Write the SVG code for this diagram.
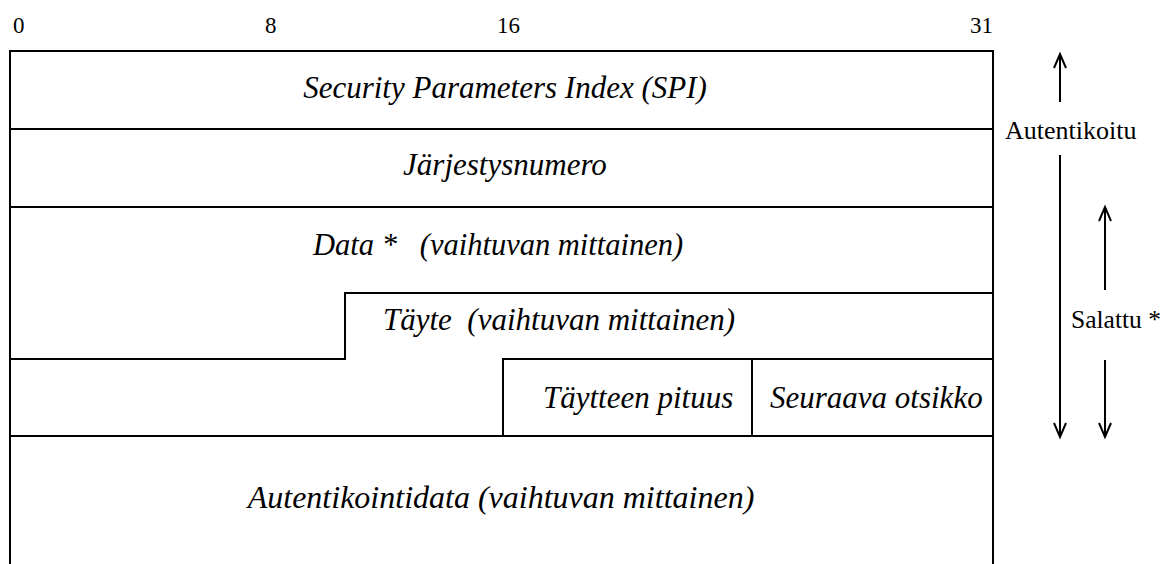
<svg xmlns="http://www.w3.org/2000/svg" width="1165" height="564" viewBox="0 0 1165 564">
  <style>
    .ln { stroke: #000; stroke-width: 2; fill: none; }
    text { font-family: "Liberation Serif", "Times New Roman", serif; fill: #000; }
    .num { font-size: 23px; }
    .lbl { font-size: 26px; }
    .fld { font-style: italic; font-size: 31px; }
  </style>
  <defs>
    <marker id="ah" viewBox="0 0 20 20" refX="15" refY="10" markerWidth="20" markerHeight="20" markerUnits="userSpaceOnUse" orient="auto">
      <polyline points="1,4 15,10 1,16" fill="none" stroke="#000" stroke-width="2"/>
    </marker>
  </defs>
  <rect width="1165" height="564" fill="#fff"/>

  <g id="scale">
    <text class="num" x="13" y="33">0</text>
    <text class="num" x="265" y="33">8</text>
    <text class="num" x="497" y="33">16</text>
    <text class="num" x="970" y="33">31</text>
  </g>

  <g id="frame">
    <polyline class="ln" points="10,564 10,51 993,51 993,564"/>
  </g>

  <g id="spi">
    <line class="ln" x1="10" y1="129" x2="993" y2="129"/>
    <text class="fld" x="505" y="98" text-anchor="middle">Security Parameters Index (SPI)</text>
  </g>
  <g id="seq">
    <line class="ln" x1="10" y1="207" x2="993" y2="207"/>
    <text class="fld" x="505" y="175" text-anchor="middle">Järjestysnumero</text>
  </g>
  <g id="data">
    <text class="fld" x="313" y="255" style="font-size:30.5px" xml:space="preserve">Data *   (vaihtuvan mittainen)</text>
  </g>
  <g id="padding">
    <polyline class="ln" points="10,359 345,359 345,293 993,293"/>
    <text class="fld" x="383" y="330" xml:space="preserve">Täyte  (vaihtuvan mittainen)</text>
  </g>
  <g id="padlen">
    <polyline class="ln" points="503,436 503,359 993,359"/>
    <line class="ln" x1="752" y1="359" x2="752" y2="436"/>
    <text class="fld" x="543" y="408">Täytteen pituus</text>
  </g>
  <g id="nexthdr">
    <text class="fld" x="770" y="408">Seuraava otsikko</text>
  </g>
  <g id="auth">
    <line class="ln" x1="10" y1="436" x2="993" y2="436"/>
    <text class="fld" x="501" y="508" text-anchor="middle" style="font-size:32px">Autentikointidata (vaihtuvan mittainen)</text>
  </g>

  <g id="connectors">
    <line class="ln" x1="1060" y1="102" x2="1060" y2="54" marker-end="url(#ah)"/>
    <line class="ln" x1="1060" y1="155" x2="1060" y2="437" marker-end="url(#ah)"/>
    <line class="ln" x1="1105" y1="290" x2="1105" y2="207" marker-end="url(#ah)"/>
    <line class="ln" x1="1105" y1="360" x2="1105" y2="437" marker-end="url(#ah)"/>
  </g>
  <g id="labels">
    <text class="lbl" x="1005" y="139">Autentikoitu</text>
    <text class="lbl" x="1071" y="328" style="font-size:25.5px">Salattu *</text>
  </g>
</svg>
